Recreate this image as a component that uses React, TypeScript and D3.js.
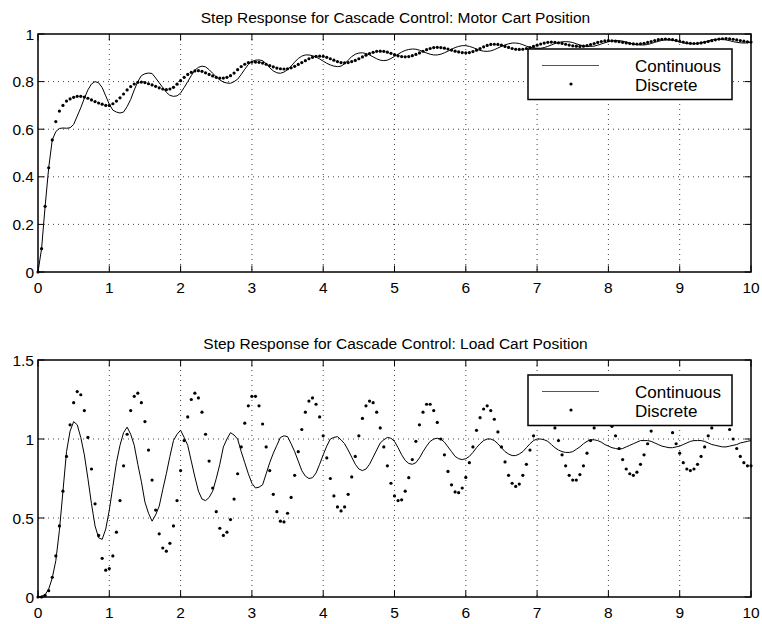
import React, { useEffect, useRef } from 'react';
import * as d3 from 'd3';

// sample spacing of every series below (seconds)
const timeStep = 0.05;

const motorContinuous = [
  0, 0.098, 0.276, 0.438, 0.555, 0.59, 0.603, 0.605, 0.604, 0.606,
  0.62, 0.655, 0.69, 0.73, 0.765, 0.79, 0.80, 0.795, 0.775, 0.74,
  0.705, 0.68, 0.672, 0.668, 0.672, 0.695, 0.725, 0.765, 0.80, 0.825,
  0.833, 0.836, 0.834, 0.815, 0.795, 0.775, 0.755, 0.742, 0.738, 0.74,
  0.752, 0.775, 0.80, 0.825, 0.848, 0.86, 0.865, 0.862, 0.85, 0.835,
  0.82, 0.807, 0.798, 0.794, 0.793, 0.80, 0.81, 0.83, 0.852, 0.872,
  0.884, 0.89, 0.891, 0.888, 0.875, 0.858, 0.845, 0.837, 0.835, 0.84,
  0.85, 0.865, 0.882, 0.897, 0.907, 0.912, 0.912, 0.909, 0.903, 0.895,
  0.886, 0.877, 0.87, 0.865, 0.863, 0.865, 0.875, 0.89, 0.905, 0.915,
  0.92, 0.921, 0.918, 0.912, 0.904, 0.896, 0.89, 0.888, 0.89, 0.897,
  0.906, 0.915, 0.924, 0.931, 0.935, 0.937, 0.936, 0.932, 0.926, 0.92,
  0.915, 0.912, 0.912, 0.915, 0.921, 0.928, 0.936, 0.943, 0.948, 0.951,
  0.951, 0.948, 0.943, 0.937, 0.931, 0.928, 0.927, 0.929, 0.934, 0.941,
  0.948, 0.954, 0.959, 0.962, 0.962, 0.96, 0.955, 0.949, 0.944, 0.941,
  0.94, 0.94, 0.943, 0.948, 0.954, 0.96, 0.964, 0.967, 0.968, 0.967,
  0.964, 0.959, 0.954, 0.95, 0.948, 0.948, 0.949, 0.953, 0.958, 0.963,
  0.968, 0.971, 0.972, 0.972, 0.97, 0.966, 0.962, 0.958, 0.955, 0.954,
  0.954, 0.956, 0.96, 0.965, 0.969, 0.973, 0.975, 0.975, 0.974, 0.971,
  0.967, 0.963, 0.96, 0.959, 0.959, 0.96, 0.963, 0.967, 0.971, 0.975,
  0.977, 0.978, 0.977, 0.975, 0.972, 0.968, 0.965, 0.963, 0.962, 0.963,
  0.966,
];

const motorDiscrete = [
  0, 0.098, 0.276, 0.438, 0.555, 0.632, 0.676, 0.70, 0.718, 0.727,
  0.734, 0.738, 0.738, 0.735, 0.73, 0.723, 0.716, 0.71, 0.705, 0.70,
  0.70, 0.707, 0.718, 0.732, 0.748, 0.765, 0.779, 0.79, 0.797, 0.798,
  0.796, 0.791, 0.786, 0.78, 0.774, 0.769, 0.766, 0.769, 0.776, 0.789,
  0.804, 0.818, 0.83, 0.839, 0.845, 0.846, 0.843, 0.837, 0.83, 0.824,
  0.818, 0.815, 0.815, 0.818, 0.825, 0.836, 0.85, 0.863, 0.873, 0.88,
  0.882, 0.882, 0.881, 0.878, 0.873, 0.8675, 0.862, 0.857, 0.854, 0.853,
  0.854, 0.858, 0.864, 0.872, 0.88, 0.888, 0.896, 0.902, 0.906, 0.907,
  0.906, 0.902, 0.896, 0.89, 0.884, 0.88, 0.879, 0.88, 0.884, 0.889,
  0.896, 0.9035, 0.911, 0.918, 0.923, 0.927, 0.928, 0.927, 0.9235, 0.919,
  0.913, 0.9085, 0.905, 0.904, 0.905, 0.909, 0.914, 0.9205, 0.9275, 0.934,
  0.939, 0.943, 0.944, 0.943, 0.9405, 0.937, 0.9325, 0.928, 0.9245, 0.922,
  0.921, 0.922, 0.926, 0.932, 0.939, 0.946, 0.952, 0.956, 0.957, 0.956,
  0.953, 0.948, 0.9435, 0.939, 0.936, 0.935, 0.936, 0.939, 0.943, 0.948,
  0.953, 0.958, 0.962, 0.965, 0.966, 0.965, 0.963, 0.9605, 0.957, 0.9535,
  0.9505, 0.949, 0.948, 0.949, 0.9515, 0.9555, 0.96, 0.9645, 0.9685, 0.971,
  0.972, 0.9715, 0.97, 0.9675, 0.965, 0.9625, 0.96, 0.9585, 0.958, 0.959,
  0.961, 0.9645, 0.9685, 0.9725, 0.976, 0.978, 0.979, 0.978, 0.976, 0.973,
  0.9695, 0.966, 0.963, 0.961, 0.96, 0.9605, 0.9625, 0.965, 0.9685, 0.972,
  0.9755, 0.9785, 0.98, 0.981, 0.98, 0.978, 0.975, 0.9725, 0.97, 0.967,
  0.966,
];

const loadContinuous = [
  0, 0.005, 0.015, 0.05, 0.12, 0.23, 0.42, 0.67, 0.92, 1.05,
  1.11, 1.09, 1.01, 0.90, 0.75, 0.59, 0.45, 0.375, 0.365, 0.43,
  0.55, 0.70, 0.85, 0.96, 1.04, 1.075, 1.03, 0.96, 0.84, 0.73,
  0.60, 0.53, 0.48, 0.52, 0.575, 0.68, 0.78, 0.89, 0.99, 1.03,
  1.055, 1.01, 0.96, 0.86, 0.76, 0.67, 0.62, 0.61, 0.63, 0.67,
  0.75, 0.84, 0.95, 1.00, 1.04, 1.025, 1.00, 0.92, 0.85, 0.78,
  0.72, 0.69, 0.695, 0.71, 0.78, 0.85, 0.91, 0.96, 1.01, 1.02,
  1.015, 0.97, 0.92, 0.86, 0.80, 0.765, 0.75, 0.755, 0.785, 0.84,
  0.90, 0.955, 1.0, 1.01, 1.015, 0.995, 0.97, 0.93, 0.885, 0.84,
  0.81, 0.80, 0.81, 0.84, 0.885, 0.93, 0.975, 0.995, 1.01, 1.005,
  0.985, 0.945, 0.90, 0.865, 0.845, 0.84, 0.85, 0.88, 0.92, 0.955,
  0.985, 1.0, 1.005, 1.0, 0.98, 0.95, 0.92, 0.89, 0.875, 0.87,
  0.875, 0.89, 0.915, 0.945, 0.97, 0.99, 1.0, 1.0, 0.99, 0.97,
  0.945, 0.92, 0.905, 0.895, 0.895, 0.905, 0.92, 0.945, 0.97, 0.99,
  1.0, 1.0, 0.995, 0.985, 0.965, 0.945, 0.93, 0.92, 0.915, 0.915,
  0.92, 0.935, 0.95, 0.97, 0.985, 0.995, 0.995, 0.99, 0.98, 0.965,
  0.955, 0.945, 0.94, 0.935, 0.94, 0.95, 0.96, 0.97, 0.98, 0.99,
  0.99, 0.99, 0.985, 0.975, 0.965, 0.955, 0.95, 0.945, 0.945, 0.95,
  0.955, 0.965, 0.975, 0.985, 0.99, 0.99, 0.99, 0.985, 0.975, 0.965,
  0.96, 0.955, 0.95, 0.95, 0.955, 0.96, 0.965, 0.975, 0.98, 0.985,
  0.99,
];

const loadDiscrete = [
  0, 0, 0.01, 0.04, 0.125, 0.26, 0.45, 0.67, 0.89, 1.09,
  1.23, 1.30, 1.28, 1.18, 1.01, 0.81, 0.59, 0.39, 0.245, 0.17,
  0.18, 0.26, 0.41, 0.61, 0.83, 1.03, 1.18, 1.27, 1.29, 1.23,
  1.11, 0.93, 0.74, 0.55, 0.40, 0.31, 0.29, 0.34, 0.45, 0.61,
  0.80, 0.99, 1.14, 1.25, 1.29, 1.26, 1.17, 1.03, 0.86, 0.69,
  0.54, 0.435, 0.39, 0.41, 0.49, 0.62, 0.78, 0.95, 1.10, 1.21,
  1.27, 1.27, 1.21, 1.095, 0.95, 0.80, 0.65, 0.54, 0.48, 0.475,
  0.53, 0.63, 0.77, 0.92, 1.06, 1.17, 1.24, 1.26, 1.22, 1.14,
  1.02, 0.88, 0.75, 0.64, 0.57, 0.545, 0.57, 0.65, 0.76, 0.89,
  1.02, 1.13, 1.21, 1.24, 1.23, 1.17, 1.07, 0.95, 0.83, 0.72,
  0.64, 0.61, 0.615, 0.67, 0.755, 0.87, 0.985, 1.09, 1.17, 1.22,
  1.22, 1.18, 1.105, 1.00, 0.90, 0.795, 0.71, 0.665, 0.66, 0.69,
  0.757, 0.85, 0.95, 1.055, 1.135, 1.19, 1.21, 1.18, 1.125, 1.045,
  0.95, 0.855, 0.77, 0.72, 0.70, 0.715, 0.77, 0.84, 0.93, 1.02,
  1.10, 1.16, 1.19, 1.18, 1.14, 1.07, 0.99, 0.90, 0.83, 0.77,
  0.74, 0.74, 0.775, 0.83, 0.91, 0.99, 1.07, 1.13, 1.17, 1.17,
  1.14, 1.08, 1.02, 0.94, 0.87, 0.81, 0.78, 0.77, 0.79, 0.84,
  0.90, 0.97, 1.05, 1.11, 1.15, 1.16, 1.14, 1.10, 1.04, 0.97,
  0.91, 0.85, 0.81, 0.80, 0.81, 0.84, 0.89, 0.95, 1.02, 1.07,
  1.12, 1.15, 1.15, 1.12, 1.06, 1.00, 0.94, 0.89, 0.85, 0.83,
  0.83,
];

const xTicks = [0, 1, 2, 3, 4, 5, 6, 7, 8, 9, 10];
const motorYTicks = [0, 0.2, 0.4, 0.6, 0.8, 1];
const loadYTicks = [0, 0.5, 1, 1.5];
const legendLabels = ['Continuous', 'Discrete'];
const motorTitle = 'Step Response for Cascade Control: Motor Cart Position';
const loadTitle = 'Step Response for Cascade Control: Load Cart Position';

const FONT = '"Liberation Sans", Arial, Helvetica, sans-serif';
const WIDTH = 762, HEIGHT = 624;
const LEFT = 38, RIGHT = 751;

const drawPanel = (svg, { top, bottom, yTicks, title, continuous, discrete }) => {
  const x = d3.scaleLinear().domain([0, 10]).range([LEFT, RIGHT]);
  const y = d3.scaleLinear().domain(d3.extent(yTicks)).range([bottom, top]);
  const g = svg.append('g');

  // dotted grid
  g.selectAll('line.vgrid')
    .data(xTicks.slice(1, -1))
    .join('line')
      .attr('x1', d => x(d)).attr('x2', d => x(d))
      .attr('y1', top).attr('y2', bottom)
      .attr('stroke', '#444')
      .attr('stroke-dasharray', '1,4');
  g.selectAll('line.hgrid')
    .data(yTicks.slice(1, -1))
    .join('line')
      .attr('x1', LEFT).attr('x2', RIGHT)
      .attr('y1', d => y(d)).attr('y2', d => y(d))
      .attr('stroke', '#444')
      .attr('stroke-dasharray', '1,4');

  // continuous response
  const line = d3.line()
    .x((d, i) => x(i * timeStep))
    .y(d => y(d));
  g.append('path')
    .datum(continuous)
    .attr('d', line)
    .attr('fill', 'none')
    .attr('stroke', '#000')
    .attr('stroke-width', 1);

  // discrete samples
  g.selectAll('circle.sample')
    .data(discrete)
    .join('circle')
      .attr('cx', (d, i) => x(i * timeStep))
      .attr('cy', d => y(d))
      .attr('r', 1.6)
      .attr('fill', '#000');

  // ticks on all four sides, pointing inward
  const tick = 6.5;
  g.selectAll('line.xtick')
    .data(xTicks)
    .join('line')
      .attr('x1', d => x(d)).attr('x2', d => x(d))
      .attr('y1', bottom).attr('y2', bottom - tick)
      .attr('stroke', '#000');
  g.selectAll('line.xtick2')
    .data(xTicks)
    .join('line')
      .attr('x1', d => x(d)).attr('x2', d => x(d))
      .attr('y1', top).attr('y2', top + tick)
      .attr('stroke', '#000');
  g.selectAll('line.ytick')
    .data(yTicks)
    .join('line')
      .attr('x1', LEFT).attr('x2', LEFT + tick)
      .attr('y1', d => y(d)).attr('y2', d => y(d))
      .attr('stroke', '#000');
  g.selectAll('line.ytick2')
    .data(yTicks)
    .join('line')
      .attr('x1', RIGHT).attr('x2', RIGHT - tick)
      .attr('y1', d => y(d)).attr('y2', d => y(d))
      .attr('stroke', '#000');

  g.append('rect')
    .attr('x', LEFT).attr('y', top)
    .attr('width', RIGHT - LEFT).attr('height', bottom - top)
    .attr('fill', 'none')
    .attr('stroke', '#000')
    .attr('stroke-width', 1.5);

  // tick labels
  g.selectAll('text.xlab')
    .data(xTicks)
    .join('text')
      .attr('x', d => x(d))
      .attr('y', bottom + 20.5)
      .attr('text-anchor', 'middle')
      .attr('font-size', 15.5)
      .text(d => d);
  g.selectAll('text.ylab')
    .data(yTicks)
    .join('text')
      .attr('x', LEFT - 4)
      .attr('y', d => y(d) + 5.5)
      .attr('text-anchor', 'end')
      .attr('font-size', 15.5)
      .text(d => d);

  g.append('text')
    .attr('x', (LEFT + RIGHT) / 2 + 1)
    .attr('y', top - 11.5)
    .attr('text-anchor', 'middle')
    .attr('font-size', 15.5)
    .text(title);

  // legend
  const lg = g.append('g').attr('transform', `translate(528,${top + 15})`);
  lg.append('rect')
    .attr('width', 204).attr('height', 50.5)
    .attr('fill', '#fff')
    .attr('stroke', '#000')
    .attr('stroke-width', 1.5);
  lg.append('line')
    .attr('x1', 14).attr('x2', 71)
    .attr('y1', 16.5).attr('y2', 16.5)
    .attr('stroke', '#555');
  lg.append('circle')
    .attr('cx', 43).attr('cy', 35)
    .attr('r', 1.6)
    .attr('fill', '#000');
  lg.selectAll('text')
    .data(legendLabels)
    .join('text')
      .attr('x', 107)
      .attr('y', (d, i) => 22.5 + i * 19.6)
      .attr('font-size', 17)
      .text(d => d);
};

const App = () => {
  const ref = useRef(null);

  useEffect(() => {
    const svg = d3.select(ref.current);
    svg.selectAll('*').remove();
    svg.attr('font-family', FONT);

    svg.append('rect')
      .attr('width', WIDTH).attr('height', HEIGHT)
      .attr('fill', '#fff');

    drawPanel(svg, {
      top: 34, bottom: 272, yTicks: motorYTicks, title: motorTitle,
      continuous: motorContinuous, discrete: motorDiscrete,
    });
    drawPanel(svg, {
      top: 360, bottom: 597, yTicks: loadYTicks, title: loadTitle,
      continuous: loadContinuous, discrete: loadDiscrete,
    });
  }, []);

  return (
    <svg ref={ref} width={WIDTH} height={HEIGHT}
      style={{ position: 'absolute', left: 0, top: 0 }}></svg>
  );
};

export default App;
